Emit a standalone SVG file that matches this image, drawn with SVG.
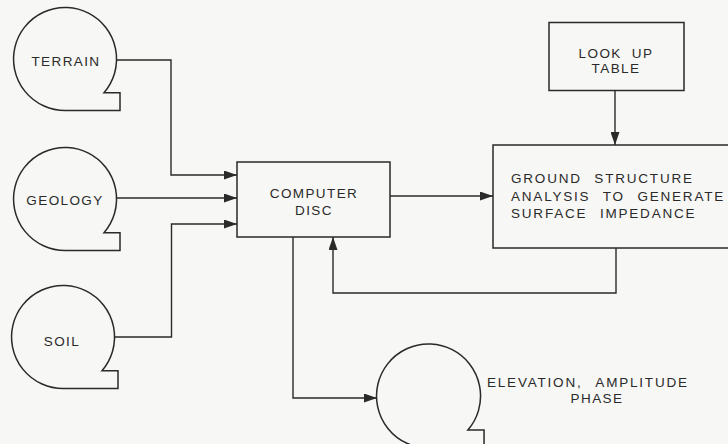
<svg xmlns="http://www.w3.org/2000/svg" width="728" height="444" viewBox="0 0 728 444">
<style>
.bg{fill:#f7f7f5}
.shape{fill:none;stroke:#2a2a2a;stroke-width:1.5}
.line{fill:none;stroke:#2a2a2a;stroke-width:1.4}
text{font-family:"Liberation Sans",Arial,sans-serif;font-size:13.5px;fill:#2a2a2a;letter-spacing:1.4px;word-spacing:5px}
.c{text-anchor:middle}
</style>
<defs>
<path id="tape" d="M0,51.5 A51.5,51.5 0 1 1 38.5,33.7 L54.5,33.7 L54.5,51.5 Z"/>
<marker id="ah" viewBox="0 0 13 9" refX="13" refY="4.5" markerWidth="13" markerHeight="9" markerUnits="userSpaceOnUse" orient="auto">
<path d="M0,0 L13,4.5 L0,9 Z" fill="#2a2a2a"/>
</marker>
</defs>
<rect class="bg" x="0" y="0" width="728" height="444"/>
<g id="connectors" class="line">
<path d="M117,60 H171 V175 H237" marker-end="url(#ah)"/>
<path d="M117,198 H237" marker-end="url(#ah)"/>
<path d="M115,337 H171.5 V224 H237" marker-end="url(#ah)"/>
<path d="M390,196 H493" marker-end="url(#ah)"/>
<path d="M615,91 V145" marker-end="url(#ah)"/>
<path d="M616,248 V293 H333 V237" marker-end="url(#ah)"/>
<path d="M293,237 V398 H377" marker-end="url(#ah)"/>
</g>
<g id="terrain">
<use href="#tape" class="shape" transform="translate(65.5,59)"/>
<text class="c" x="66" y="66">TERRAIN</text>
</g>
<g id="geology">
<use href="#tape" class="shape" transform="translate(65.5,199)"/>
<text class="c" x="65" y="205">GEOLOGY</text>
</g>
<g id="soil">
<use href="#tape" class="shape" transform="translate(63.5,337)"/>
<text class="c" x="62" y="346">SOIL</text>
</g>
<g id="computer-disc">
<rect class="shape" x="237" y="162" width="153" height="75"/>
<text class="c" x="314" y="198">COMPUTER</text>
<text class="c" x="314" y="215">DISC</text>
</g>
<g id="look-up-table">
<rect class="shape" x="549" y="22.5" width="135" height="68"/>
<text class="c" x="616" y="58">LOOK UP</text>
<text class="c" x="616" y="73">TABLE</text>
</g>
<g id="ground-structure">
<rect class="shape" x="493" y="145" width="240" height="103"/>
<text x="511" y="183" style="letter-spacing:1.8px;word-spacing:7px">GROUND STRUCTURE</text>
<text x="511" y="201" style="letter-spacing:1.8px;word-spacing:7px">ANALYSIS TO GENERATE</text>
<text x="511" y="218" style="letter-spacing:1.8px;word-spacing:7px">SURFACE IMPEDANCE</text>
</g>
<g id="elevation">
<use href="#tape" class="shape" transform="translate(429,396) scale(1.01)"/>
<text x="487" y="387" style="letter-spacing:1.8px;word-spacing:8px">ELEVATION, AMPLITUDE</text>
<text class="c" x="597" y="403">PHASE</text>
</g>
</svg>
